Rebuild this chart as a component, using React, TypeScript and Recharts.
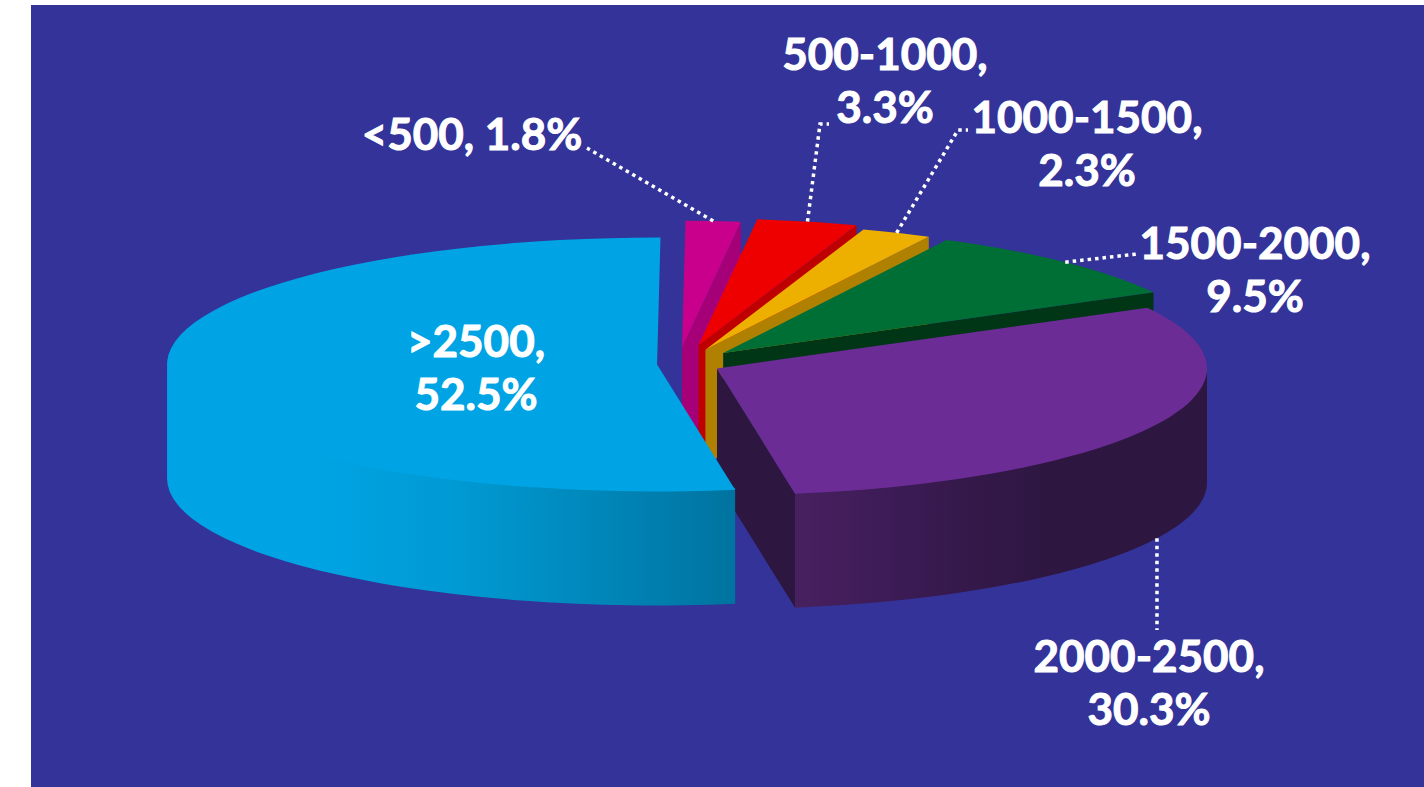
import { PieChart, Pie } from 'recharts'

const CATEGORIES = ['<500', '500-1000', '1000-1500', '1500-2000', '2000-2500', '>2500']
const SHARES = [1.8, 3.3, 2.3, 9.5, 30.3, 52.5]

const TOP_COLORS = ['#c8008c', '#ee0000', '#eeb000', '#006f35', '#6b2c96', '#00a4e4']
const FACE_COLORS = ['#a60078', '#bf0000', '#b08000', '#003516', '#2d1640', '#0078a8']
const RIM_STOPS: [number, string][][] = [
  [],
  [],
  [],
  [],
  [[0, '#48205f'], [0.2, '#3e1c58'], [0.45, '#331848'], [0.65, '#2d1640'], [1, '#2d1640']],
  [[0, '#00a4e4'], [0.25, '#00a4e4'], [0.5, '#009ad4'], [0.72, '#008abd'], [0.88, '#007dac'], [1, '#00739f']],
]

// how far each slice is pulled out of the pie, in pie-plane pixels
const EXPLODE = [63, 74, 60, 59, 39, 25]
// sideways correction, the pink slice sits a little left of its radial direction
const NUDGE_X = [-4, 0, 0, 0, 0, 0]

// text centre, first baseline and leader line path per label
const LABEL_X = [472, 885, 1087, 1255, 1149, 476]
const LABEL_Y = [150, 70, 133, 259, 672, 357]
const LEADERS: number[][][] = [
  [[587, 148]],
  [[820, 124], [829, 124]],
  [[958, 130], [968, 130]],
  [[1137, 254]],
  [[1157, 630]],
  [],
]

const PIE_CX = 682
const PIE_CY = 364
const RADIUS = 490
const TILT = 0.259
const DEPTH = 114

const data = CATEGORIES.map((name, i) => ({ name, value: SHARES[i] }))

const rad = (deg: number) => (deg * Math.PI) / 180

const rimPoint = (cx: number, cy: number, r: number, deg: number) => ({
  x: cx + r * Math.cos(rad(deg)),
  y: cy - r * TILT * Math.sin(rad(deg)),
})

const sliceCenter = (cx: number, cy: number, midAngle: number, index: number) =>
  rimPoint(cx + NUDGE_X[index], cy, EXPLODE[index], midAngle)

function Slice3D(props: any) {
  const { cx, cy, outerRadius: r, startAngle, endAngle, midAngle } = props
  const index = CATEGORIES.indexOf(props.name ?? props.payload?.name)
  const c = sliceCenter(cx, cy, midAngle, index)
  const ry = r * TILT
  const p = (deg: number) => rimPoint(c.x, c.y, r, deg)
  const arc = (from: number, to: number, sweep: number, dy = 0) => {
    const end = p(to)
    const large = Math.abs(from - to) > 180 ? 1 : 0
    return `A ${r} ${ry} 0 ${large} ${sweep} ${end.x} ${end.y + dy}`
  }
  const face = (deg: number) => {
    const o = p(deg)
    return `M ${c.x} ${c.y} L ${o.x} ${o.y} L ${o.x} ${o.y + DEPTH} L ${c.x} ${c.y + DEPTH} Z`
  }

  const start = p(startAngle)
  const top = `M ${c.x} ${c.y} L ${start.x} ${start.y} ${arc(startAngle, endAngle, 1)} Z`

  // only the front half of the rim can be seen; its upper edge tucks under the top
  const rimFrom = Math.min(startAngle, 0)
  const rimTo = Math.max(endAngle, -180)
  const hasRim = rimFrom > rimTo
  const rf = p(rimFrom)
  const rt = p(rimTo)
  const rim = `M ${rf.x} ${rf.y - 2} ${arc(rimFrom, rimTo, 1, -2)} L ${rt.x} ${rt.y + DEPTH} ${arc(rimTo, rimFrom, 0, DEPTH)} Z`
  const gradId = `rim-${index}`

  return (
    <g>
      {RIM_STOPS[index].length > 0 && (
        <defs>
          <linearGradient id={gradId} x1="0" y1="0" x2="1" y2="0">
            {RIM_STOPS[index].map(([offset, color]) => (
              <stop key={offset} offset={offset} stopColor={color} />
            ))}
          </linearGradient>
        </defs>
      )}
      {Math.cos(rad(startAngle)) < -0.02 && <path d={face(startAngle)} fill={FACE_COLORS[index]} />}
      {Math.cos(rad(endAngle)) > 0.02 && <path d={face(endAngle)} fill={FACE_COLORS[index]} />}
      {hasRim && <path d={rim} fill={`url(#${gradId})`} />}
      <path d={top} fill={TOP_COLORS[index]} />
    </g>
  )
}

function SliceLabel(props: any) {
  const { cx, cy, midAngle, outerRadius: r, index } = props
  const c = sliceCenter(cx, cy, midAngle, index)
  const anchor = rimPoint(c.x, c.y, r, midAngle)
  const front = Math.sin(rad(midAngle)) < 0
  const leader = [[anchor.x, anchor.y + (front ? DEPTH : 0)], ...LEADERS[index]]
  const name = CATEGORIES[index]
  const share = `${SHARES[index]}%`
  const x = LABEL_X[index]
  const y = LABEL_Y[index]

  return (
    <g>
      {LEADERS[index].length > 0 && (
        <polyline
          points={leader.map((pt) => pt.join(',')).join(' ')}
          fill="none"
          stroke="#ffffff"
          strokeWidth={3.5}
          strokeDasharray="3.5 4"
        />
      )}
      <text
        textAnchor="middle"
        fill="#ffffff"
        stroke="#ffffff"
        strokeWidth={1}
        fontFamily="Lato, sans-serif"
        fontWeight={700}
        fontSize={44}
      >
        {index === 0 ? (
          <tspan x={x} y={y}>{`${name}, ${share}`}</tspan>
        ) : (
          <>
            <tspan x={x} y={y}>{`${name},`}</tspan>
            <tspan x={x} y={y + 53}>{share}</tspan>
          </>
        )}
      </text>
    </g>
  )
}

export default function App() {
  return (
    <div style={{ position: 'absolute', left: 0, top: 0, width: 1424, height: 787, background: '#ffffff', overflow: 'hidden' }}>
      <div style={{ position: 'absolute', left: 31, top: 5, width: 1393, height: 782, background: '#333399' }} />
      <div style={{ position: 'absolute', left: 0, top: 0 }}>
        <PieChart width={1424} height={787} margin={{ top: 0, right: 0, bottom: 0, left: 0 }}>
          <Pie
            data={data}
            dataKey="value"
            nameKey="name"
            cx={PIE_CX}
            cy={PIE_CY}
            innerRadius={0}
            outerRadius={RADIUS}
            startAngle={89.6}
            endAngle={-270.4}
            stroke="none"
            shape={Slice3D}
            label={SliceLabel}
            labelLine={false}
            isAnimationActive={false}
          />
        </PieChart>
      </div>
    </div>
  )
}
